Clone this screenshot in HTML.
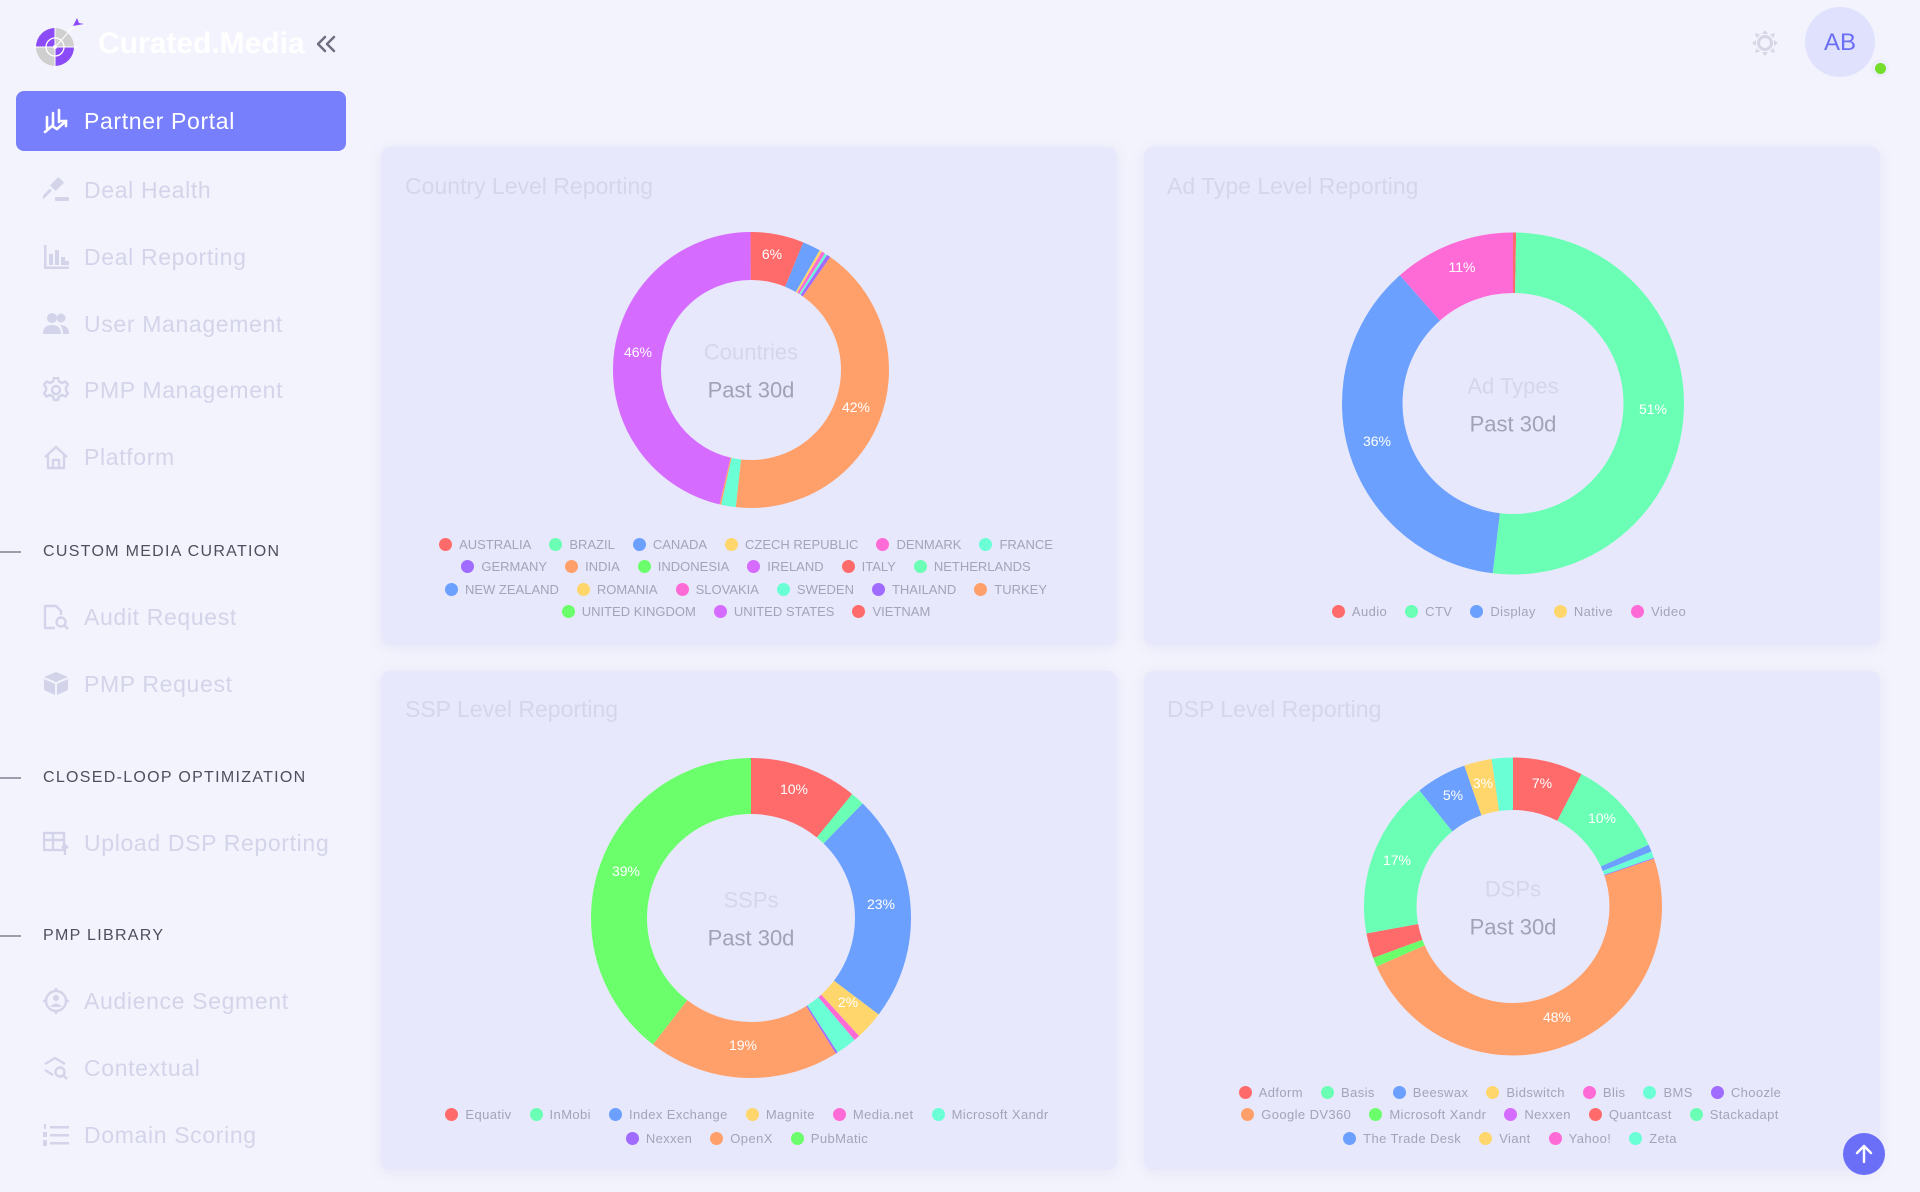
<!DOCTYPE html>
<html>
<head>
<meta charset="utf-8">
<style>
  html,body{margin:0;padding:0;}
  body{width:1920px;height:1192px;overflow:hidden;background:#f3f3fd;font-family:"Liberation Sans",sans-serif;position:relative;}
  .abs{position:absolute;}
  .nav{position:absolute;left:84px;height:30px;line-height:30px;font-size:23px;color:#d3d4e9;letter-spacing:0.65px;white-space:nowrap;}
  .sec{position:absolute;left:43px;height:20px;line-height:20px;font-size:16px;color:#4e4e5e;letter-spacing:1.3px;white-space:nowrap;}
  .secline{position:absolute;left:0;width:21px;height:1.5px;background:#9c9cac;}
  .ico{position:absolute;left:43px;width:26px;height:26px;}
  .card{position:absolute;background:#e7e8fc;border-radius:9px;box-shadow:0 2px 14px rgba(120,120,200,0.10);}
  .ctitle{position:absolute;font-size:23px;color:#d6d6ea;height:30px;line-height:30px;white-space:nowrap;}
  .leg{position:absolute;display:flex;justify-content:center;align-items:center;height:20px;white-space:nowrap;}
  .it{display:flex;align-items:center;margin:0 9px;font-size:13px;color:#a4a4b8;letter-spacing:0.4px;}
  .it i{display:inline-block;width:13px;height:13px;border-radius:50%;margin-right:7px;}
  .up .it{letter-spacing:0;}
</style>
</head>
<body>

<!-- Logo -->
<svg class="abs" style="left:30px;top:10px" width="60" height="64" viewBox="30 10 60 64">
  <circle cx="55" cy="47" r="19" fill="#cfcfcf"/>
  <path d="M55 47 L55 28 A19 19 0 0 0 36 47 Z" fill="#8b4cf8"/>
  <path d="M55 47 L74 47 A19 19 0 0 1 55 66 Z" fill="#8b4cf8"/>
  <circle cx="55" cy="47" r="9" fill="none" stroke="#fff" stroke-width="1.3"/>
  <line x1="33" y1="47" x2="77" y2="47" stroke="#fff" stroke-width="1"/>
  <line x1="55" y1="25" x2="55" y2="69" stroke="#fff" stroke-width="1"/>
  <line x1="55" y1="47" x2="76" y2="24" stroke="#fff" stroke-width="1"/>
  <circle cx="55" cy="47" r="2" fill="#fff"/>
  <path d="M73 26 L77 18 L79 23 L84 24 Z" fill="#8b4cf8"/>
</svg>
<div class="abs" style="left:98px;top:26px;font-size:30px;font-weight:bold;color:#ffffff;line-height:36px;">Curated.Media</div>
<svg class="abs" style="left:315px;top:34px" width="24" height="22">
  <polyline points="10,3 3,10 10,17" fill="none" stroke="#6e6e82" stroke-width="2.5" stroke-linecap="round" stroke-linejoin="round"/>
  <polyline points="19,3 12,10 19,17" fill="none" stroke="#6e6e82" stroke-width="2.5" stroke-linecap="round" stroke-linejoin="round"/>
</svg>

<!-- Partner portal -->
<div class="abs" style="left:16px;top:91px;width:330px;height:60px;background:#787ffc;border-radius:8px;"></div>
<svg class="ico" style="top:108px" viewBox="0 0 26 26">
  <g stroke="#fff" stroke-width="2.6" stroke-linecap="round" fill="none">
    <line x1="4" y1="9" x2="4" y2="20"/>
    <line x1="10" y1="5" x2="10" y2="17"/>
    <line x1="16" y1="2" x2="16" y2="14"/>
    <polyline points="2,24 9,18 14,21 23,13"/>
    <polyline points="18,13 23,13 23,18"/>
  </g>
</svg>
<div class="nav" style="top:106px;color:#ffffff;">Partner Portal</div>

<!-- Menu items -->
<svg class="ico" style="top:177px" viewBox="0 0 26 26">
  <g fill="#d3d4e9">
    <rect x="10" y="1" width="8" height="12" rx="1" transform="rotate(45 14 7)"/>
    <rect x="2" y="13" width="3" height="14" transform="rotate(45 6 18)"/>
    <rect x="12" y="20" width="14" height="4" rx="1"/>
  </g>
</svg>
<div class="nav" style="top:175px;">Deal Health</div>

<svg class="ico" style="top:244px" viewBox="0 0 26 26">
  <g fill="#d3d4e9">
    <rect x="1" y="1" width="2.5" height="24"/>
    <rect x="1" y="22.5" width="25" height="2.5"/>
    <rect x="6" y="10" width="4" height="11"/>
    <rect x="12" y="6" width="4" height="15"/>
    <rect x="18" y="13" width="4" height="8"/>
    <rect x="22" y="17" width="4" height="4"/>
  </g>
</svg>
<div class="nav" style="top:242px;">Deal Reporting</div>

<svg class="ico" style="top:310px" viewBox="0 0 26 26">
  <g fill="#d3d4e9">
    <circle cx="9" cy="8" r="5"/>
    <circle cx="18" cy="8" r="4.5"/>
    <path d="M0 24 Q0 15 9 15 Q18 15 18 24 Z"/>
    <path d="M17 15 Q26 15 26 24 L20 24 Q20 18 17 15 Z"/>
  </g>
</svg>
<div class="nav" style="top:309px;">User Management</div>

<svg class="ico" style="top:377px" viewBox="0 0 26 26">
  <g fill="none" stroke="#d3d4e9" stroke-width="2.4">
    <circle cx="13" cy="13" r="4"/>
    <path d="M11 1 h4 l1 3.5 l3 1.5 l3.5-1.5 l2.5 3 l-2 3 v3 l2 3 l-2.5 3 l-3.5-1.5 l-3 1.5 l-1 3.5 h-4 l-1-3.5 l-3-1.5 l-3.5 1.5 l-2.5-3 l2-3 v-3 l-2-3 l2.5-3 l3.5 1.5 l3-1.5 z" stroke-linejoin="round"/>
  </g>
</svg>
<div class="nav" style="top:375px;">PMP Management</div>

<svg class="ico" style="top:444px" viewBox="0 0 26 26">
  <g fill="none" stroke="#d3d4e9" stroke-width="2.4" stroke-linejoin="round">
    <path d="M2 13 L13 3 L24 13"/>
    <path d="M5 11 V24 H21 V11"/>
    <path d="M10 24 V16 H16 V24"/>
  </g>
</svg>
<div class="nav" style="top:442px;">Platform</div>

<!-- Sections -->
<div class="secline" style="top:551px;"></div>
<div class="sec" style="top:542px;">CUSTOM MEDIA CURATION</div>

<svg class="ico" style="top:604px" viewBox="0 0 26 26">
  <g fill="none" stroke="#d3d4e9" stroke-width="2.4" stroke-linejoin="round">
    <path d="M12 24 H2 V2 H13 L18 7 V11"/>
    <circle cx="18" cy="18" r="4.5"/>
    <line x1="21" y1="21" x2="25" y2="25"/>
  </g>
</svg>
<div class="nav" style="top:602px;">Audit Request</div>

<svg class="ico" style="top:670px" viewBox="0 0 26 26">
  <g fill="#d3d4e9">
    <path d="M13 2 L25 7 L13 12 L1 7 Z"/>
    <path d="M1 9 L12 14 V25 L1 20 Z"/>
    <path d="M25 9 L14 14 V25 L25 20 Z"/>
  </g>
</svg>
<div class="nav" style="top:669px;">PMP Request</div>

<div class="secline" style="top:777px;"></div>
<div class="sec" style="top:768px;">CLOSED-LOOP OPTIMIZATION</div>

<svg class="ico" style="top:830px" viewBox="0 0 26 26">
  <g fill="none" stroke="#d3d4e9" stroke-width="2.4">
    <rect x="1" y="3" width="20" height="17"/>
    <line x1="1" y1="10" x2="21" y2="10"/>
    <line x1="10" y1="3" x2="10" y2="20"/>
    <line x1="22" y1="25" x2="22" y2="15"/>
    <polyline points="19,18 22,15 25,18"/>
  </g>
</svg>
<div class="nav" style="top:828px;">Upload DSP Reporting</div>

<div class="secline" style="top:935px;"></div>
<div class="sec" style="top:926px;">PMP LIBRARY</div>

<svg class="ico" style="top:988px" viewBox="0 0 26 26">
  <g fill="none" stroke="#d3d4e9" stroke-width="2.4">
    <circle cx="13" cy="13" r="10"/>
    <line x1="13" y1="0" x2="13" y2="4"/>
    <line x1="13" y1="22" x2="13" y2="26"/>
    <line x1="0" y1="13" x2="4" y2="13"/>
    <line x1="22" y1="13" x2="26" y2="13"/>
  </g>
  <circle cx="13" cy="10" r="3" fill="#d3d4e9"/>
  <path d="M7 19 Q13 12 19 19 Z" fill="#d3d4e9"/>
</svg>
<div class="nav" style="top:986px;">Audience Segment</div>

<svg class="ico" style="top:1055px" viewBox="0 0 26 26">
  <g fill="none" stroke="#d3d4e9" stroke-width="2.4" stroke-linejoin="round">
    <path d="M2 9 L12 3 L22 9"/>
    <path d="M2 15 L10 20"/>
    <circle cx="17" cy="17" r="4.5"/>
    <line x1="20" y1="20" x2="24" y2="24"/>
  </g>
</svg>
<div class="nav" style="top:1053px;">Contextual</div>

<svg class="ico" style="top:1122px" viewBox="0 0 26 26">
  <g fill="#d3d4e9">
    <rect x="7" y="4" width="19" height="2.5"/>
    <rect x="7" y="12" width="19" height="2.5"/>
    <rect x="7" y="20" width="19" height="2.5"/>
    <rect x="1" y="2" width="2" height="5"/>
    <rect x="0" y="10" width="4" height="5"/>
    <rect x="0" y="18" width="4" height="6"/>
  </g>
</svg>
<div class="nav" style="top:1120px;">Domain Scoring</div>

<!-- Top right -->
<svg class="abs" style="left:1750px;top:28px" width="30" height="30" viewBox="0 0 30 30">
  <circle cx="15" cy="15" r="6.5" fill="none" stroke="#d6d6e6" stroke-width="3"/>
  <g fill="#d6d6e6">
    <path d="M15 2 L18 6 H12 Z"/>
    <path d="M15 28 L18 24 H12 Z"/>
    <path d="M2 15 L6 12 V18 Z"/>
    <path d="M28 15 L24 12 V18 Z"/>
    <path d="M5 5 L10 6.5 L6.5 10 Z"/>
    <path d="M25 5 L20 6.5 L23.5 10 Z"/>
    <path d="M5 25 L10 23.5 L6.5 20 Z"/>
    <path d="M25 25 L20 23.5 L23.5 20 Z"/>
  </g>
</svg>
<div class="abs" style="left:1805px;top:7px;width:70px;height:70px;border-radius:50%;background:#dfe1fd;color:#6b6ef5;font-size:24px;line-height:72px;text-align:center;">AB</div>
<div class="abs" style="left:1871px;top:59px;width:18px;height:18px;border-radius:50%;background:#eceefd;"></div>
<div class="abs" style="left:1874.5px;top:62.5px;width:11px;height:11px;border-radius:50%;background:#72dd2a;"></div>

<!-- Cards -->
<div class="card" style="left:381px;top:147px;width:736px;height:498px;"></div>
<div class="card" style="left:1144px;top:147px;width:736px;height:498px;"></div>
<div class="card" style="left:381px;top:671px;width:736px;height:499px;"></div>
<div class="card" style="left:1144px;top:671px;width:736px;height:499px;"></div>

<div class="ctitle" style="left:405px;top:171px;">Country Level Reporting</div>
<div class="ctitle" style="left:1167px;top:171px;">Ad Type Level Reporting</div>
<div class="ctitle" style="left:405px;top:694px;">SSP Level Reporting</div>
<div class="ctitle" style="left:1167px;top:694px;">DSP Level Reporting</div>

<!-- Charts -->
<svg class="abs" style="left:0;top:0" width="1920" height="1192" viewBox="0 0 1920 1192">
  <!-- Country -->
  <g transform="translate(751,370) rotate(-90)" fill="none" stroke-width="48">
    <circle r="114" pathLength="100" stroke="#ff6b6b" stroke-dasharray="6.2 93.8" stroke-dashoffset="0"/>
    <circle r="114" pathLength="100" stroke="#6ba0ff" stroke-dasharray="2.1 97.9" stroke-dashoffset="-6.2"/>
    <circle r="114" pathLength="100" stroke="#ffd66b" stroke-dasharray="0.3 99.7" stroke-dashoffset="-8.3"/>
    <circle r="114" pathLength="100" stroke="#ff6bd6" stroke-dasharray="0.4 99.6" stroke-dashoffset="-8.6"/>
    <circle r="114" pathLength="100" stroke="#6bffd6" stroke-dasharray="0.3 99.7" stroke-dashoffset="-9.0"/>
    <circle r="114" pathLength="100" stroke="#a06bff" stroke-dasharray="0.45 99.55" stroke-dashoffset="-9.3"/>
    <circle r="114" pathLength="100" stroke="#ffa06b" stroke-dasharray="42.05 57.95" stroke-dashoffset="-9.75"/>
    <circle r="114" pathLength="100" stroke="#6bffd6" stroke-dasharray="1.7 98.3" stroke-dashoffset="-51.8"/>
    <circle r="114" pathLength="100" stroke="#ffa06b" stroke-dasharray="0.2 99.8" stroke-dashoffset="-53.5"/>
    <circle r="114" pathLength="100" stroke="#d66bff" stroke-dasharray="46.3 53.7" stroke-dashoffset="-53.7"/>
  </g>
  <g font-family="Liberation Sans, sans-serif" font-size="14" fill="#ffffff" text-anchor="middle" dominant-baseline="central">
    <text x="772" y="254">6%</text>
    <text x="856" y="407">42%</text>
    <text x="638" y="352">46%</text>
  </g>
  <g font-family="Liberation Sans, sans-serif" font-size="22" text-anchor="middle" dominant-baseline="central">
    <text x="751" y="352" fill="#d6d6ea">Countries</text>
    <text x="751" y="390" fill="#a2a2b6">Past 30d</text>
  </g>

  <!-- Ad Type -->
  <g transform="translate(1513,403.5) rotate(-90)" fill="none" stroke-width="60.5">
    <circle r="140.75" pathLength="100" stroke="#ff6b6b" stroke-dasharray="0.3 99.7" stroke-dashoffset="0"/>
    <circle r="140.75" pathLength="100" stroke="#6bffb5" stroke-dasharray="51.6 48.4" stroke-dashoffset="-0.3"/>
    <circle r="140.75" pathLength="100" stroke="#6ba0ff" stroke-dasharray="36.6 63.4" stroke-dashoffset="-51.9"/>
    <circle r="140.75" pathLength="100" stroke="#ff6bd6" stroke-dasharray="11.5 88.5" stroke-dashoffset="-88.5"/>
  </g>
  <g font-family="Liberation Sans, sans-serif" font-size="14" fill="#ffffff" text-anchor="middle" dominant-baseline="central">
    <text x="1462" y="267">11%</text>
    <text x="1653" y="409">51%</text>
    <text x="1377" y="441">36%</text>
  </g>
  <g font-family="Liberation Sans, sans-serif" font-size="22" text-anchor="middle" dominant-baseline="central">
    <text x="1513" y="386" fill="#d6d6ea">Ad Types</text>
    <text x="1513" y="424" fill="#a2a2b6">Past 30d</text>
  </g>

  <!-- SSP -->
  <g transform="translate(751,918) rotate(-90)" fill="none" stroke-width="56">
    <circle r="132" pathLength="100" stroke="#ff6b6b" stroke-dasharray="10.9 89.1" stroke-dashoffset="0"/>
    <circle r="132" pathLength="100" stroke="#6bffb5" stroke-dasharray="1.4 98.6" stroke-dashoffset="-10.9"/>
    <circle r="132" pathLength="100" stroke="#6ba0ff" stroke-dasharray="23.0 77.0" stroke-dashoffset="-12.3"/>
    <circle r="132" pathLength="100" stroke="#ffd66b" stroke-dasharray="2.9 97.1" stroke-dashoffset="-35.3"/>
    <circle r="132" pathLength="100" stroke="#ff6bd6" stroke-dasharray="0.6 99.4" stroke-dashoffset="-38.2"/>
    <circle r="132" pathLength="100" stroke="#6bffd6" stroke-dasharray="2.1 97.9" stroke-dashoffset="-38.8"/>
    <circle r="132" pathLength="100" stroke="#a06bff" stroke-dasharray="0.2 99.8" stroke-dashoffset="-40.9"/>
    <circle r="132" pathLength="100" stroke="#ffa06b" stroke-dasharray="19.4 80.6" stroke-dashoffset="-41.1"/>
    <circle r="132" pathLength="100" stroke="#6bff6b" stroke-dasharray="39.5 60.5" stroke-dashoffset="-60.5"/>
  </g>
  <g font-family="Liberation Sans, sans-serif" font-size="14" fill="#ffffff" text-anchor="middle" dominant-baseline="central">
    <text x="794" y="789">10%</text>
    <text x="881" y="904">23%</text>
    <text x="848" y="1002">2%</text>
    <text x="743" y="1045">19%</text>
    <text x="626" y="871">39%</text>
  </g>
  <g font-family="Liberation Sans, sans-serif" font-size="22" text-anchor="middle" dominant-baseline="central">
    <text x="751" y="900" fill="#d6d6ea">SSPs</text>
    <text x="751" y="938" fill="#a2a2b6">Past 30d</text>
  </g>

  <!-- DSP -->
  <g transform="translate(1513,906.5) rotate(-90)" fill="none" stroke-width="52.5">
    <circle r="122.75" pathLength="100" stroke="#ff6b6b" stroke-dasharray="7.6 92.4" stroke-dashoffset="0"/>
    <circle r="122.75" pathLength="100" stroke="#6bffb5" stroke-dasharray="10.6 89.4" stroke-dashoffset="-7.6"/>
    <circle r="122.75" pathLength="100" stroke="#6ba0ff" stroke-dasharray="0.8 99.2" stroke-dashoffset="-18.2"/>
    <circle r="122.75" pathLength="100" stroke="#6bffd6" stroke-dasharray="0.7 99.3" stroke-dashoffset="-19.0"/>
    <circle r="122.75" pathLength="100" stroke="#a06bff" stroke-dasharray="0.1 99.9" stroke-dashoffset="-19.7"/>
    <circle r="122.75" pathLength="100" stroke="#ffa06b" stroke-dasharray="48.6 51.4" stroke-dashoffset="-19.8"/>
    <circle r="122.75" pathLength="100" stroke="#6bff6b" stroke-dasharray="1.0 99.0" stroke-dashoffset="-68.4"/>
    <circle r="122.75" pathLength="100" stroke="#ff6b6b" stroke-dasharray="2.7 97.3" stroke-dashoffset="-69.4"/>
    <circle r="122.75" pathLength="100" stroke="#6bffb5" stroke-dasharray="17.1 82.9" stroke-dashoffset="-72.1"/>
    <circle r="122.75" pathLength="100" stroke="#6ba0ff" stroke-dasharray="5.5 94.5" stroke-dashoffset="-89.2"/>
    <circle r="122.75" pathLength="100" stroke="#ffd66b" stroke-dasharray="3.0 97.0" stroke-dashoffset="-94.7"/>
    <circle r="122.75" pathLength="100" stroke="#6bffd6" stroke-dasharray="2.3 97.7" stroke-dashoffset="-97.7"/>
  </g>
  <g font-family="Liberation Sans, sans-serif" font-size="14" fill="#ffffff" text-anchor="middle" dominant-baseline="central">
    <text x="1542" y="783">7%</text>
    <text x="1602" y="818">10%</text>
    <text x="1557" y="1017">48%</text>
    <text x="1397" y="860">17%</text>
    <text x="1453" y="795">5%</text>
    <text x="1483" y="783">3%</text>
  </g>
  <g font-family="Liberation Sans, sans-serif" font-size="22" text-anchor="middle" dominant-baseline="central">
    <text x="1513" y="889" fill="#d6d6ea">DSPs</text>
    <text x="1513" y="927" fill="#a2a2b6">Past 30d</text>
  </g>
</svg>

<!-- Country legend -->
<div class="up">
<div class="leg" style="left:346px;width:800px;top:534px;">
  <span class="it"><i style="background:#ff6b6b"></i>AUSTRALIA</span>
  <span class="it"><i style="background:#6bffb5"></i>BRAZIL</span>
  <span class="it"><i style="background:#6ba0ff"></i>CANADA</span>
  <span class="it"><i style="background:#ffd66b"></i>CZECH REPUBLIC</span>
  <span class="it"><i style="background:#ff6bd6"></i>DENMARK</span>
  <span class="it"><i style="background:#6bffd6"></i>FRANCE</span>
</div>
<div class="leg" style="left:346px;width:800px;top:556px;">
  <span class="it"><i style="background:#a06bff"></i>GERMANY</span>
  <span class="it"><i style="background:#ffa06b"></i>INDIA</span>
  <span class="it"><i style="background:#6bff6b"></i>INDONESIA</span>
  <span class="it"><i style="background:#d66bff"></i>IRELAND</span>
  <span class="it"><i style="background:#ff6b6b"></i>ITALY</span>
  <span class="it"><i style="background:#6bffb5"></i>NETHERLANDS</span>
</div>
<div class="leg" style="left:346px;width:800px;top:579px;">
  <span class="it"><i style="background:#6ba0ff"></i>NEW ZEALAND</span>
  <span class="it"><i style="background:#ffd66b"></i>ROMANIA</span>
  <span class="it"><i style="background:#ff6bd6"></i>SLOVAKIA</span>
  <span class="it"><i style="background:#6bffd6"></i>SWEDEN</span>
  <span class="it"><i style="background:#a06bff"></i>THAILAND</span>
  <span class="it"><i style="background:#ffa06b"></i>TURKEY</span>
</div>
<div class="leg" style="left:346px;width:800px;top:601px;">
  <span class="it"><i style="background:#6bff6b"></i>UNITED KINGDOM</span>
  <span class="it"><i style="background:#d66bff"></i>UNITED STATES</span>
  <span class="it"><i style="background:#ff6b6b"></i>VIETNAM</span>
</div>
</div>

<!-- Ad type legend -->
<div class="leg" style="left:1109px;width:800px;top:601px;">
  <span class="it"><i style="background:#ff6b6b"></i>Audio</span>
  <span class="it"><i style="background:#6bffb5"></i>CTV</span>
  <span class="it"><i style="background:#6ba0ff"></i>Display</span>
  <span class="it"><i style="background:#ffd66b"></i>Native</span>
  <span class="it"><i style="background:#ff6bd6"></i>Video</span>
</div>

<!-- SSP legend -->
<div class="leg" style="left:347px;width:800px;top:1104px;">
  <span class="it"><i style="background:#ff6b6b"></i>Equativ</span>
  <span class="it"><i style="background:#6bffb5"></i>InMobi</span>
  <span class="it"><i style="background:#6ba0ff"></i>Index Exchange</span>
  <span class="it"><i style="background:#ffd66b"></i>Magnite</span>
  <span class="it"><i style="background:#ff6bd6"></i>Media.net</span>
  <span class="it"><i style="background:#6bffd6"></i>Microsoft Xandr</span>
</div>
<div class="leg" style="left:347px;width:800px;top:1128px;">
  <span class="it"><i style="background:#a06bff"></i>Nexxen</span>
  <span class="it"><i style="background:#ffa06b"></i>OpenX</span>
  <span class="it"><i style="background:#6bff6b"></i>PubMatic</span>
</div>

<!-- DSP legend -->
<div class="leg" style="left:1110px;width:800px;top:1082px;">
  <span class="it"><i style="background:#ff6b6b"></i>Adform</span>
  <span class="it"><i style="background:#6bffb5"></i>Basis</span>
  <span class="it"><i style="background:#6ba0ff"></i>Beeswax</span>
  <span class="it"><i style="background:#ffd66b"></i>Bidswitch</span>
  <span class="it"><i style="background:#ff6bd6"></i>Blis</span>
  <span class="it"><i style="background:#6bffd6"></i>BMS</span>
  <span class="it"><i style="background:#a06bff"></i>Choozle</span>
</div>
<div class="leg" style="left:1110px;width:800px;top:1104px;">
  <span class="it"><i style="background:#ffa06b"></i>Google DV360</span>
  <span class="it"><i style="background:#6bff6b"></i>Microsoft Xandr</span>
  <span class="it"><i style="background:#d66bff"></i>Nexxen</span>
  <span class="it"><i style="background:#ff6b6b"></i>Quantcast</span>
  <span class="it"><i style="background:#6bffb5"></i>Stackadapt</span>
</div>
<div class="leg" style="left:1110px;width:800px;top:1128px;">
  <span class="it"><i style="background:#6ba0ff"></i>The Trade Desk</span>
  <span class="it"><i style="background:#ffd66b"></i>Viant</span>
  <span class="it"><i style="background:#ff6bd6"></i>Yahoo!</span>
  <span class="it"><i style="background:#6bffd6"></i>Zeta</span>
</div>

<!-- Scroll-to-top button -->
<svg class="abs" style="left:1843px;top:1133px" width="42" height="42" viewBox="0 0 42 42">
  <circle cx="21" cy="21" r="21" fill="#6b6ff8"/>
  <g stroke="#fff" stroke-width="2.4" fill="none" stroke-linecap="round" stroke-linejoin="round">
    <line x1="21" y1="29" x2="21" y2="13"/>
    <polyline points="14,20 21,13 28,20"/>
  </g>
</svg>

</body>
</html>
